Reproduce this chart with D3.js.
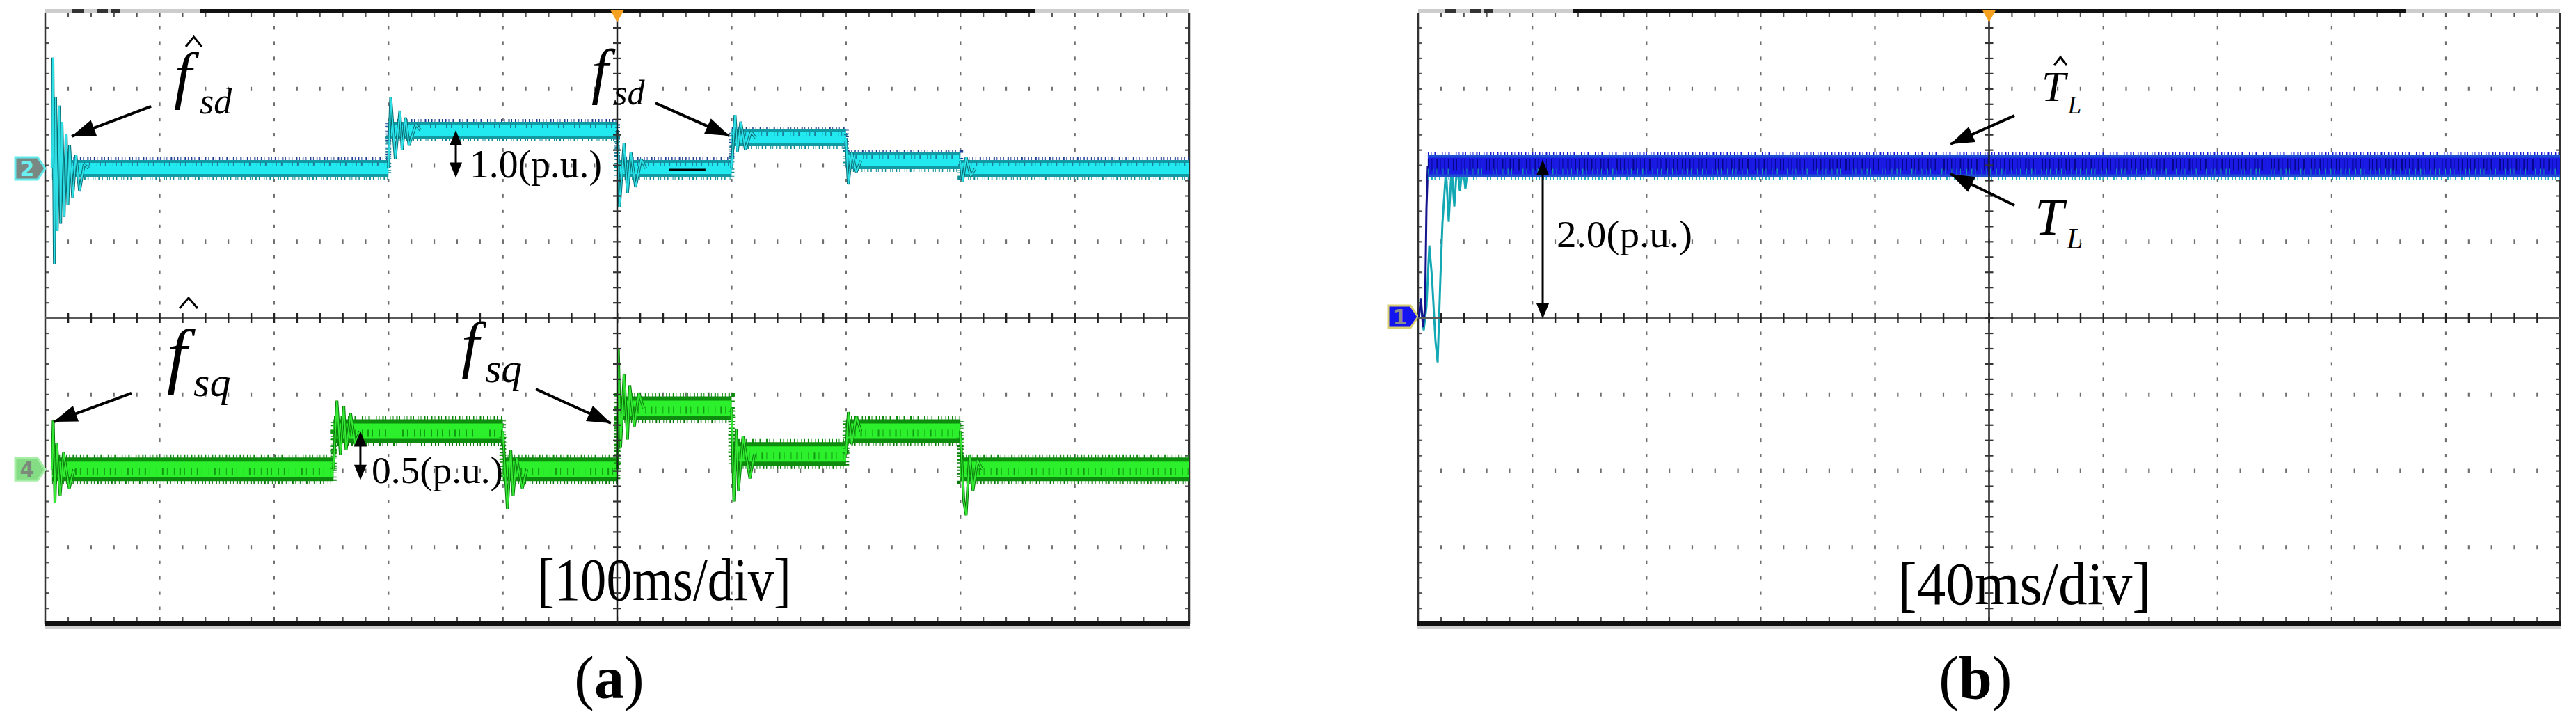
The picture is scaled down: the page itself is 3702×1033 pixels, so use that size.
<!DOCTYPE html>
<html>
<head>
<meta charset="utf-8">
<script src="https://cdn.jsdelivr.net/npm/d3@7"></script>
<style>
  body { margin: 0; background: #fff; }
  svg { display: block; font-family: "Liberation Serif", "DejaVu Serif", serif; }
</style>
</head>
<body>
<div id="main"></div>
<script>
/// values read off the two scope captures ///
// time is in divisions (a: 100ms/div, b: 40ms/div), values in p.u.

// (a) channel 2 : f_sd and its estimate
const fsdSteps  = [0.06, 3.0, 5.0, 6.0, 7.0, 8.0, 10.0];
const fsdLevels = [0, 1.0, 0, 0.8, 0.2, 0];
const fsdRing = [          // ringing after each step, [t, value]
  [[0.067, 2.9], [0.08, -2.5], [0.091, 1.87], [0.105, -1.64], [0.122, 1.64], [0.135, -1.45], [0.146, 1.22],
   [0.165, -1.27], [0.183, 0.91], [0.198, -0.96], [0.213, 0.6], [0.24, -0.78], [0.268, 0.36], [0.3, -0.6], [0.34, 0.1]],
  [[3.02, 1.87], [3.06, 0.24], [3.1, 1.51], [3.12, 0.49], [3.15, 1.33], [3.18, 0.6], [3.24, 1.15]],
  [[5.02, -1.02], [5.06, 0.67], [5.09, -0.65], [5.12, 0.42], [5.16, -0.49], [5.21, 0.24]],
  [[6.03, 1.4], [6.05, 0.42], [6.08, 1.22], [6.12, 0.49], [6.17, 0.96]],
  [[7.02, -0.42], [7.05, 0.42], [7.09, -0.1]],
  [[8.02, -0.35], [8.05, 0.3], [8.09, -0.2]]
];

// (a) channel 4 : f_sq and its estimate
const fsqSteps  = [0.06, 2.52, 4.0, 5.0, 6.0, 7.0, 8.0, 10.0];
const fsqLevels = [0, 0.5, 0, 0.8, 0.2, 0.5, 0];
const fsqRing = [
  [[0.07, 0.65], [0.085, -0.44], [0.1, 0.34], [0.13, -0.35], [0.16, 0.22], [0.21, -0.25]],
  [[2.55, 0.9], [2.58, 0.19], [2.61, 0.83], [2.63, 0.25], [2.67, 0.73], [2.71, 0.33]],
  [[4.04, -0.52], [4.07, 0.25], [4.09, -0.35], [4.12, 0.15], [4.17, -0.25]],
  [[5.01, 1.57], [5.03, 0.29], [5.06, 1.24], [5.09, 0.39], [5.11, 1.1], [5.15, 0.56], [5.19, 1.0]],
  [[6.02, -0.42], [6.04, 0.53], [6.06, -0.28], [6.1, 0.43], [6.16, -0.12]],
  [[7.02, 0.75], [7.05, 0.33], [7.09, 0.69]],
  [[8.03, -0.42], [8.05, -0.6], [8.08, 0.19], [8.11, -0.28], [8.15, 0.12]]
];

// (b) channel 1 : T_L and its estimate
const tlSteps  = [0.085, 10.0];
const tlLevels = [2.0];
const tlStart = [[0.006, 0], [0.024, 0.27], [0.043, -0.11], [0.061, 0.16], [0.073, 1.44], [0.085, 2.0]];
const tlHatStart = [[0.018, 0.26], [0.049, -0.15], [0.073, 0.16], [0.098, 0.96], [0.122, 0.53], [0.152, -0.29],
  [0.171, -0.57], [0.195, 0.53], [0.213, 1.25], [0.244, 1.95], [0.268, 1.27], [0.293, 1.98], [0.317, 1.47],
  [0.341, 2.02], [0.366, 1.67], [0.39, 2.02], [0.414, 1.7], [0.439, 2.02]];

// measured spans shown by the double arrows (p.u.)
const fsdSpan = [1.0, -0.25];
const fsqSpan = [0.5, -0.14];
const tlSpan  = [2.08, 0];

/// layout ///
const W = 3702, H = 1033;
const plotTop = 18, plotBottom = 896;

const svg = d3.select('#main').append('svg')
  .attr('width', W).attr('height', H);
svg.append('rect').attr('width', W).attr('height', H).attr('fill', '#fff');

const panels = [
  { id: 'a', left: 65, right: 1709 },
  { id: 'b', left: 2038, right: 3679 }
];
panels.forEach(p => {
  p.x = d3.scaleLinear().domain([0, 10]).range([p.left, p.right]);
  p.y = d3.scaleLinear().domain([-4, 4]).range([plotBottom, plotTop]);
  p.g = svg.append('g').attr('id', 'panel-' + p.id);
});
const [pa, pb] = panels;

// channel scales: ground offset in divisions, p.u. per division
const ch2 = v => pa.y(1.96 + v / 2);
const ch4 = v => pa.y(-1.98 + v);
const ch1 = v => pb.y(-0.01 + v);

/// scope graticule ///
function drawGrid(p) {
  const g = p.g.append('g'), x = p.x, y = p.y;
  const L = x(0), R = x(10), T = y(4), B = y(-4);
  const fx = d3.range(0.2, 9.9, 0.2), fy = d3.range(-3.8, 3.9, 0.2);

  // dotted division lines
  d3.range(1, 10).filter(i => i !== 5).forEach(i => {
    g.selectAll(null).data(fy).enter().append('rect')
      .attr('x', x(i) - 1).attr('y', d => y(d) - 2.5)
      .attr('width', 2.2).attr('height', 5).attr('fill', '#707070');
  });
  [-3, -2, -1, 1, 2, 3].forEach(j => {
    g.selectAll(null).data(fx).enter().append('rect')
      .attr('x', d => x(d) - 1).attr('y', y(j) - 3)
      .attr('width', 2.2).attr('height', 6).attr('fill', '#707070');
  });

  // ticks on the frame
  g.selectAll(null).data(fx).enter().append('rect')
    .attr('x', d => x(d) - 1).attr('y', T).attr('width', 2.2).attr('height', 6).attr('fill', '#555');
  g.selectAll(null).data(fx).enter().append('rect')
    .attr('x', d => x(d) - 1).attr('y', B - 9).attr('width', 2.2).attr('height', 6).attr('fill', '#555');
  g.selectAll(null).data(fy).enter().append('rect')
    .attr('x', L).attr('y', d => y(d) - 1).attr('width', 6).attr('height', 2.2).attr('fill', '#555');
  g.selectAll(null).data(fy).enter().append('rect')
    .attr('x', R - 6).attr('y', d => y(d) - 1).attr('width', 6).attr('height', 2.2).attr('fill', '#555');

  // frame
  g.append('line').attr('x1', L).attr('x2', L).attr('y1', T).attr('y2', B)
    .attr('stroke', '#333').attr('stroke-width', 2.5);
  g.append('line').attr('x1', R).attr('x2', R).attr('y1', T).attr('y2', B)
    .attr('stroke', '#333').attr('stroke-width', 2.5);
  g.append('rect').attr('x', L - 1).attr('y', B - 4).attr('width', R - L + 2).attr('height', 7).attr('fill', '#111');
  g.append('rect').attr('x', L - 1).attr('y', B + 3).attr('width', R - L + 2).attr('height', 4).attr('fill', '#cfcfcf');

  // top status bar
  g.append('rect').attr('x', L).attr('y', T - 5).attr('width', R - L).attr('height', 6).attr('fill', '#cdcdcd');
  g.append('rect').attr('x', L + 222).attr('y', T - 5).attr('width', R - L - 444).attr('height', 6).attr('fill', '#111');
  [[38, 17], [75, 15], [95, 12]].forEach(s => {
    g.append('rect').attr('x', L + s[0]).attr('y', T - 5).attr('width', s[1]).attr('height', 5).attr('fill', '#333');
  });
}

function drawAxes(p) {
  const g = p.g.append('g'), x = p.x, y = p.y;
  const fx = d3.range(0.2, 9.9, 0.2), fy = d3.range(-3.8, 3.9, 0.2);
  g.append('line').attr('x1', x(0)).attr('x2', x(10)).attr('y1', y(0)).attr('y2', y(0))
    .attr('stroke', '#5a5a5a').attr('stroke-width', 4);
  g.selectAll(null).data(fx).enter().append('rect')
    .attr('x', d => x(d) - 1).attr('y', y(0) - 7).attr('width', 2.4).attr('height', 14).attr('fill', '#222');
  g.append('line').attr('x1', x(5)).attr('x2', x(5)).attr('y1', y(4)).attr('y2', y(-4))
    .attr('stroke', '#1c1c1c').attr('stroke-width', 2.5);
  g.selectAll(null).data(fy).enter().append('rect')
    .attr('x', x(5) - 6).attr('y', d => y(d) - 1).attr('width', 12).attr('height', 2.2).attr('fill', '#333');
  // trigger marker
  g.append('path')
    .attr('d', `M${x(5) - 10},${y(4) - 4}L${x(5) + 10},${y(4) - 4}L${x(5)},${y(4) + 14}Z`)
    .attr('fill', '#f5a01e');
}

function marker(p, yc, fill, edge, label, txt) {
  const L = p.x(0);
  const pts = [[L - 43, yc - 16], [L - 11, yc - 16], [L, yc], [L - 11, yc + 16], [L - 43, yc + 16]];
  p.g.append('polygon').attr('points', pts.join(' '))
    .attr('fill', fill).attr('stroke', edge).attr('stroke-width', 3);
  p.g.append('text').attr('x', L - 26).attr('y', yc + 11).attr('text-anchor', 'middle')
    .style('font-family', '"DejaVu Sans", sans-serif').style('font-weight', 'bold')
    .style('font-size', '30px').attr('fill', txt).text(label);
}

/// traces: noise band around each level, ringing drawn on top ///
function drawTrace(p, y, steps, levels, rings, st) {
  const g = p.g.append('g'), x = p.x;
  const pts = [];
  levels.forEach((v, i) => pts.push([steps[i], v], [steps[i + 1], v]));
  const offset = dy => d3.line().x(d => x(d[0])).y(d => y(d[1]) + dy)(pts);

  st.fringes.forEach(f => {
    g.append('path').attr('d', offset(f.dy))
      .attr('fill', 'none').attr('stroke', f.color).attr('stroke-width', f.w)
      .attr('stroke-dasharray', f.dash);
  });
  st.bands.forEach(b => {
    g.append('path')
      .attr('d', d3.area().x(d => x(d[0])).y0(d => y(d[1]) + b.hw).y1(d => y(d[1]) - b.hw)(pts))
      .attr('fill', b.fill);
  });
  (st.streaks || []).forEach(f => {
    g.append('path').attr('d', offset(f.dy))
      .attr('fill', 'none').attr('stroke', f.color).attr('stroke-width', f.w)
      .attr('stroke-dasharray', f.dash);
  });

  const line = d3.line().x(d => x(d[0])).y(d => y(d[1]));
  rings.forEach((r, i) => {
    if (!r.length) return;
    const seq = [[steps[i], i ? levels[i - 1] : levels[0]]].concat(r, [[r[r.length - 1][0] + 0.04, levels[i]]]);
    st.ring.forEach(s => {
      g.append('path').attr('d', line(seq)).attr('fill', 'none')
        .attr('stroke', s.color).attr('stroke-width', s.w).attr('stroke-linejoin', 'bevel');
    });
  });
}

const cyanStyle = {
  fringes: [
    { dy: -12, w: 8, color: '#1f3f96', dash: '1.5 3 1 5 2 2.5 1 4' },
    { dy: 12, w: 8, color: '#0f8c94', dash: '1 4 2 3 1.5 6 1 2' }
  ],
  bands: [{ hw: 12, fill: '#129aa2' }, { hw: 8, fill: '#22e8ef' }],
  streaks: [{ dy: -6, w: 6, color: '#1a7f9a', dash: '1 6 2 9 1 4' }],
  ring: [{ color: '#0b6b72', w: 4 }, { color: '#2ee0e6', w: 2 }]
};
const greenStyle = {
  fringes: [
    { dy: -17, w: 9, color: '#0c8a0c', dash: '1.5 3 1 4 2 2.5 1 5' },
    { dy: 17, w: 9, color: '#0a7a0a', dash: '1 4 2 2.5 1.5 5 1 3' }
  ],
  bands: [{ hw: 17, fill: '#0d8c0d' }, { hw: 11, fill: '#2cf02c' }],
  streaks: [{ dy: 3, w: 10, color: '#139a13', dash: '1 7 2 5 1 9' }],
  ring: [{ color: '#0a7a0a', w: 4 }, { color: '#36e836', w: 2 }]
};
const blueStyle = {
  fringes: [
    { dy: -16, w: 9, color: '#1c1cd8', dash: '1.5 3 1 4 2 2.5 1 5' },
    { dy: 16, w: 9, color: '#1ab0c2', dash: '1 4 2 2.5 1.5 5 1 3' }
  ],
  bands: [{ hw: 16, fill: '#1f4fd0' }, { hw: 12, fill: '#1a1ae4' }],
  streaks: [
    { dy: -2, w: 16, color: '#07078a', dash: '1.5 4 1 6 2 3 1 5' },
    { dy: 8, w: 8, color: '#148fae', dash: '1 6 1.5 4 1 8' }
  ],
  ring: []
};

/// annotations (positions in divisions) ///
function arrowHead(g, x1, y1, x2, y2, len, hw) {
  const a = Math.atan2(y2 - y1, x2 - x1), c = Math.cos(a), s = Math.sin(a);
  const bx = x2 - len * c, by = y2 - len * s;
  g.append('path')
    .attr('d', `M${x2},${y2}L${bx - hw * s},${by + hw * c}L${bx + hw * s},${by - hw * c}Z`)
    .attr('fill', '#000');
}
function arrow(p, from, to) {
  const g = p.g, x1 = p.x(from[0]), y1 = p.y(from[1]), x2 = p.x(to[0]), y2 = p.y(to[1]);
  g.append('line').attr('x1', x1).attr('y1', y1).attr('x2', x2).attr('y2', y2)
    .attr('stroke', '#000').attr('stroke-width', 4);
  arrowHead(g, x1, y1, x2, y2, 34, 12);
}
function span(p, t, yTop, yBot) {
  const g = p.g, x = p.x(t);
  g.append('line').attr('x1', x).attr('x2', x).attr('y1', yTop + 10).attr('y2', yBot - 10)
    .attr('stroke', '#000').attr('stroke-width', 3);
  arrowHead(g, x, yBot, x, yTop, 22, 9);
  arrowHead(g, x, yTop, x, yBot, 22, 9);
}
function label(p, t, d, size, txt, italic) {
  return p.g.append('text').attr('x', p.x(t)).attr('y', p.y(d))
    .style('font-size', size + 'px').style('font-style', italic ? 'italic' : 'normal')
    .attr('fill', '#000').text(txt);
}
// symbol with subscript in one text element: base at (t, d), subscript at (st, sd)
function symbol(p, base, sub) {
  const t = p.g.append('text').style('font-style', 'italic').attr('fill', '#000');
  t.append('tspan').attr('x', p.x(base.t)).attr('y', p.y(base.d))
    .style('font-size', base.size + 'px').text(base.txt);
  t.append('tspan').attr('x', p.x(sub.t)).attr('y', p.y(sub.d))
    .style('font-size', sub.size + 'px').text(sub.txt);
}
function hat(p, t, d, w, h) {
  const x = p.x(t), y = p.y(d);
  p.g.append('path').attr('d', `M${x - w / 2},${y + h / 2}L${x},${y - h / 2}L${x + w / 2},${y + h / 2}`)
    .attr('fill', 'none').attr('stroke', '#000').attr('stroke-width', 3);
}

panels.forEach(drawGrid);

marker(pa, ch2(0), '#7a8884', '#62eaea', '2', '#6af0f0');
marker(pa, ch4(0), '#84dc84', '#a6eea6', '4', '#7c8a7c');
marker(pb, ch1(0) - 3, '#1414f0', '#d8d070', '1', '#8c8c8c');

drawTrace(pa, ch2, fsdSteps, fsdLevels, fsdRing, cyanStyle);
drawTrace(pa, ch4, fsqSteps, fsqLevels, fsqRing, greenStyle);

// (b): startup of both signals, then the common band
const lb = d3.line().x(d => pb.x(d[0])).y(d => ch1(d[1]));
pb.g.append('path').attr('d', lb(tlHatStart)).attr('fill', 'none')
  .attr('stroke', '#14a8b4').attr('stroke-width', 3);
pb.g.append('path').attr('d', lb(tlStart)).attr('fill', 'none')
  .attr('stroke', '#14148c').attr('stroke-width', 3);
drawTrace(pb, ch1, tlSteps, tlLevels, [], blueStyle);

panels.forEach(drawAxes);

// (a) labels
symbol(pa, { t: 1.125, d: 2.898, size: 92, txt: 'f' }, { t: 1.35, d: 2.679, size: 52, txt: 'sd' });
hat(pa, 1.299, 3.617, 23, 14);
arrow(pa, [0.925, 2.77], [0.231, 2.38]);

symbol(pa, { t: 4.775, d: 2.961, size: 88, txt: 'f' }, { t: 4.97, d: 2.797, size: 50, txt: 'sd' });
arrow(pa, [5.334, 2.815], [5.979, 2.387]);

symbol(pa, { t: 1.064, d: -0.802, size: 104, txt: 'f' }, { t: 1.296, d: -1.021, size: 60, txt: 'sq' });
hat(pa, 1.253, 0.196, 26, 15);
arrow(pa, [0.754, -0.984], [0.073, -1.358]);

symbol(pa, { t: 3.637, d: -0.629, size: 92, txt: 'f' }, { t: 3.844, d: -0.838, size: 60, txt: 'sq' });
arrow(pa, [4.288, -0.929], [4.945, -1.376]);

span(pa, 3.589, ch2(fsdSpan[0]), ch2(fsdSpan[1]));
label(pa, 3.71, 1.841, 56, '1.0(p.u.)').attr('textLength', 190).attr('lengthAdjust', 'spacingAndGlyphs');
span(pa, 2.755, ch4(fsqSpan[0]), ch4(fsqSpan[1]));
label(pa, 2.853, -2.159, 54, '0.5(p.u.)').attr('textLength', 189).attr('lengthAdjust', 'spacingAndGlyphs');

pa.g.append('line').attr('x1', pa.x(5.456)).attr('x2', pa.x(5.772)).attr('y1', pa.y(1.941)).attr('y2', pa.y(1.941))
  .attr('stroke', '#000').attr('stroke-width', 3);

label(pa, 4.3, -3.69, 86, '[100ms/div]').attr('textLength', 365).attr('lengthAdjust', 'spacingAndGlyphs');

// (b) labels
symbol(pb, { t: 5.46, d: 2.843, size: 62, txt: 'T' }, { t: 5.69, d: 2.679, size: 35, txt: 'L' });
hat(pb, 5.625, 3.362, 18, 12);
arrow(pb, [5.222, 2.651], [4.662, 2.278]);

symbol(pb, { t: 5.4, d: 1.093, size: 75, txt: 'T' }, { t: 5.68, d: 0.911, size: 42, txt: 'L' });
arrow(pb, [5.222, 1.476], [4.662, 1.886]);

span(pb, 1.091, ch1(tlSpan[0]), ch1(tlSpan[1]));
label(pb, 1.213, 0.929, 55, '2.0(p.u.)').attr('textLength', 195).attr('lengthAdjust', 'spacingAndGlyphs');

label(pb, 4.199, -3.745, 86, '[40ms/div]').attr('textLength', 365).attr('lengthAdjust', 'spacingAndGlyphs');

// sub-figure captions
[[pa, 'a', 4.93], [pb, 'b', 4.88]].forEach(([p, c, t0]) => {
  const t = p.g.append('text').attr('x', p.x(t0)).attr('y', p.y(-4.975))
    .attr('text-anchor', 'middle').style('font-size', '86px').attr('fill', '#000');
  t.append('tspan').text('(');
  t.append('tspan').style('font-weight', 'bold').text(c);
  t.append('tspan').text(')');
});
</script>
</body>
</html>
